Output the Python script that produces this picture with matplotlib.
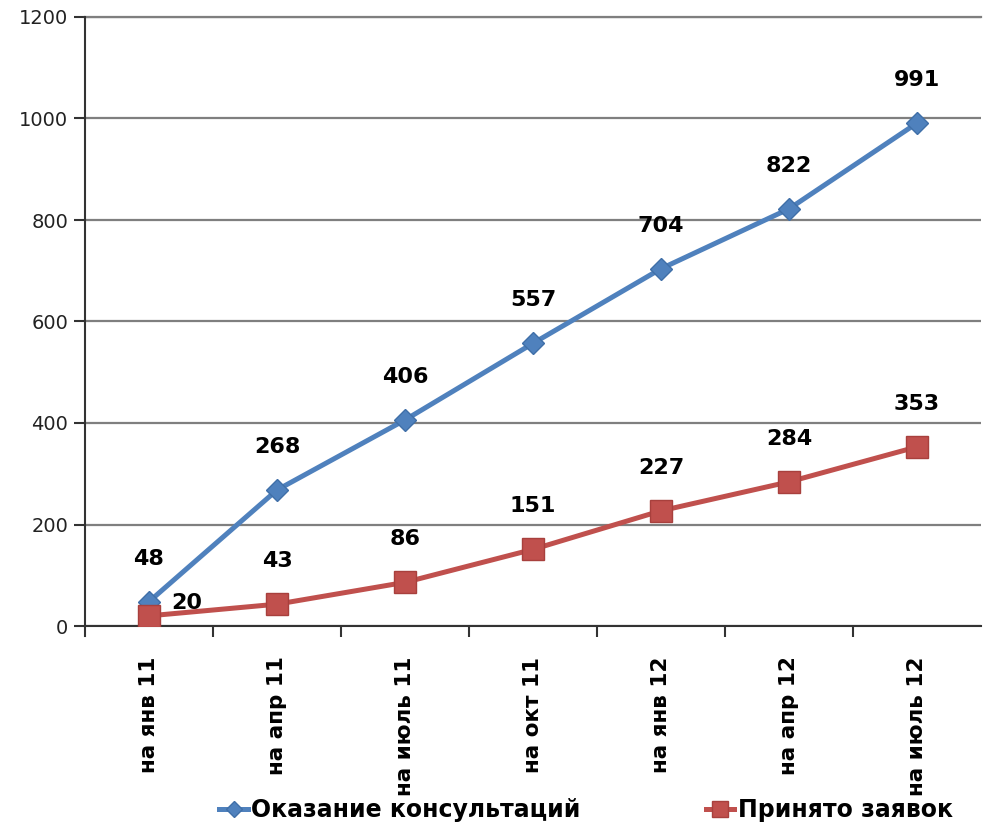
import matplotlib.pyplot as plt
import numpy as np

# data
periods = ['на янв 11', 'на апр 11', 'на июль 11', 'на окт 11',
           'на янв 12', 'на апр 12', 'на июль 12']
consult = [48, 268, 406, 557, 704, 822, 991]
requests = [20, 43, 86, 151, 227, 284, 353]
series_names = ['Оказание консультаций', 'Принято заявок']
y_ticks = [0, 200, 400, 600, 800, 1000, 1200]

blue = '#4F81BD'
red = '#C0504D'

fig = plt.figure(figsize=(9.9, 8.27), dpi=100)
ax = fig.add_axes([85 / 990, 1 - 626 / 827, (981 - 85) / 990, (626 - 17) / 827])

x = np.arange(len(periods))

ax.plot(x, consult, color=blue, lw=3.6, marker='D', markersize=11,
        markerfacecolor=blue, markeredgecolor='#3F6FA8', zorder=4,
        label=series_names[0])
ax.plot(x, requests, color=red, lw=3.6, marker='s', markersize=16,
        markerfacecolor=red, markeredgecolor='#A8403D', zorder=5,
        label=series_names[1])

lbl = dict(fontsize=16, fontweight='bold', color='black', zorder=6)
for xi, v in zip(x, consult):
    ax.annotate(str(v), (xi, v), xytext=(0, 31), textcoords='offset points',
                ha='center', va='center', **lbl)
for i, (xi, v) in enumerate(zip(x, requests)):
    if i == 0:
        # first label sits to the right of the marker
        ax.annotate(str(v), (xi, v), xytext=(27, 9), textcoords='offset points',
                    ha='center', va='center', **lbl)
    else:
        ax.annotate(str(v), (xi, v), xytext=(0, 31), textcoords='offset points',
                    ha='center', va='center', **lbl)

ax.set_xlim(-0.5, len(periods) - 0.5)
ax.set_ylim(0, 1200)
ax.set_yticks(y_ticks)
ax.set_yticklabels([str(t) for t in y_ticks], fontsize=14, color='#222222')
ax.yaxis.grid(True, color='#7f7f7f', lw=1.6, zorder=1)
ax.axhline(1200, color='#7f7f7f', lw=1.6, clip_on=False, zorder=1)
ax.set_axisbelow(True)

# category labels at points, tick marks between categories
ax.set_xticks(x)
ax.set_xticklabels(periods, rotation=90, fontsize=15.5, fontweight='bold',
                   ha='center', va='top')
ax.tick_params(axis='x', length=0, pad=22)
ax.set_xticks(np.arange(0.5, len(periods) - 0.5), minor=True)
ax.tick_params(axis='x', which='minor', length=8, width=1.5, direction='out',
               color='#333333')
ax.tick_params(axis='y', length=8, width=1.5, direction='out', color='#333333',
               pad=4)

for side in ['top', 'right']:
    ax.spines[side].set_visible(False)
ax.spines['left'].set_color('#333333')
ax.spines['left'].set_linewidth(1.5)
ax.spines['left'].set_bounds(-20, 1200)
ax.spines['bottom'].set_color('#333333')
ax.spines['bottom'].set_linewidth(1.5)
ax.spines['left'].set_clip_on(False)

fig.legend(loc='center left', bbox_to_anchor=(210 / 990, 1 - 810 / 827),
           ncol=2, frameon=False, handlelength=1.2, handletextpad=0.15,
           columnspacing=5.3, prop={'size': 17, 'weight': 'bold'},
           markerscale=0.75, borderaxespad=0)

fig.savefig('out.png', dpi=100)
